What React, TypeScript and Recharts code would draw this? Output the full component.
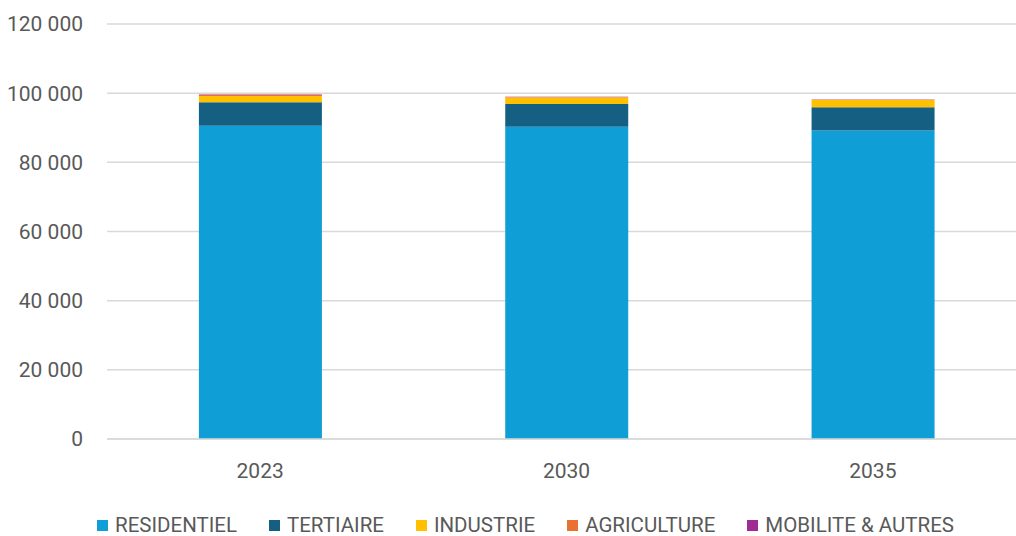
import { BarChart, Bar, XAxis, YAxis, CartesianGrid, Legend } from "recharts";

const years = ["2023", "2030", "2035"];
const residentiel = [90600, 90300, 89200];
const tertiaire = [6750, 6550, 6750];
const industrie = [1850, 1900, 2100];
const agriculture = [250, 150, 60];
const mobilite = [150, 80, 40];
const yTicks = [0, 20000, 40000, 60000, 80000, 100000, 120000];

const series = [
  { key: "RESIDENTIEL", color: "#0F9ED5", values: residentiel },
  { key: "TERTIAIRE", color: "#156082", values: tertiaire },
  { key: "INDUSTRIE", color: "#FFC000", values: industrie },
  { key: "AGRICULTURE", color: "#E97132", values: agriculture },
  { key: "MOBILITE & AUTRES", color: "#A02B93", values: mobilite },
];

const data = years.map((year, i) => {
  const row: Record<string, string | number> = { year };
  series.forEach((s) => (row[s.key] = s.values[i]));
  return row;
});

const font = "Roboto, 'Noto Sans', sans-serif";
const grey = "#595959";

const fmt = (v: number) => String(v).replace(/\B(?=(\d{3})+(?!\d))/g, " ");

function LegendRow() {
  return (
    <div style={{ display: "flex", height: 22, alignItems: "center", paddingLeft: 97, fontFamily: font, fontSize: 20.5, color: grey }}>
      {series.map((s) => (
        <div key={s.key} style={{ display: "flex", alignItems: "center", marginRight: 32 }}>
          <span style={{ width: 11, height: 11, background: s.color, marginRight: 7, display: "inline-block" }} />
          <span>{s.key}</span>
        </div>
      ))}
    </div>
  );
}

export default function App() {
  return (
    <div style={{ position: "fixed", top: 0, left: 0, width: 1016, height: 536, overflow: "hidden", background: "#fff" }}>
      {/* plot area runs past the right edge, like the original */}
      <BarChart width={1016} height={536} data={data} margin={{ top: 24, right: -10, bottom: 0, left: 0 }} barCategoryGap="30%">
        <CartesianGrid vertical={false} stroke="#d9d9d9" strokeWidth={1.5} />
        <XAxis
          dataKey="year"
          height={75}
          tickLine={false}
          tickSize={0}
          tickMargin={24}
          axisLine={{ stroke: "#d9d9d9", strokeWidth: 1.5 }}
          tick={{ fill: grey, fontSize: 21, fontFamily: font }}
        />
        <YAxis
          width={107}
          domain={[0, 120000]}
          ticks={yTicks}
          tickFormatter={fmt}
          axisLine={false}
          tickLine={false}
          tickSize={0}
          tickMargin={24}
          tick={{ fill: grey, fontSize: 21, fontFamily: font }}
        />
        <Legend verticalAlign="bottom" content={() => <LegendRow />} />
        {series.map((s) => (
          <Bar key={s.key} dataKey={s.key} stackId="a" fill={s.color} isAnimationActive={false} />
        ))}
      </BarChart>
    </div>
  );
}
